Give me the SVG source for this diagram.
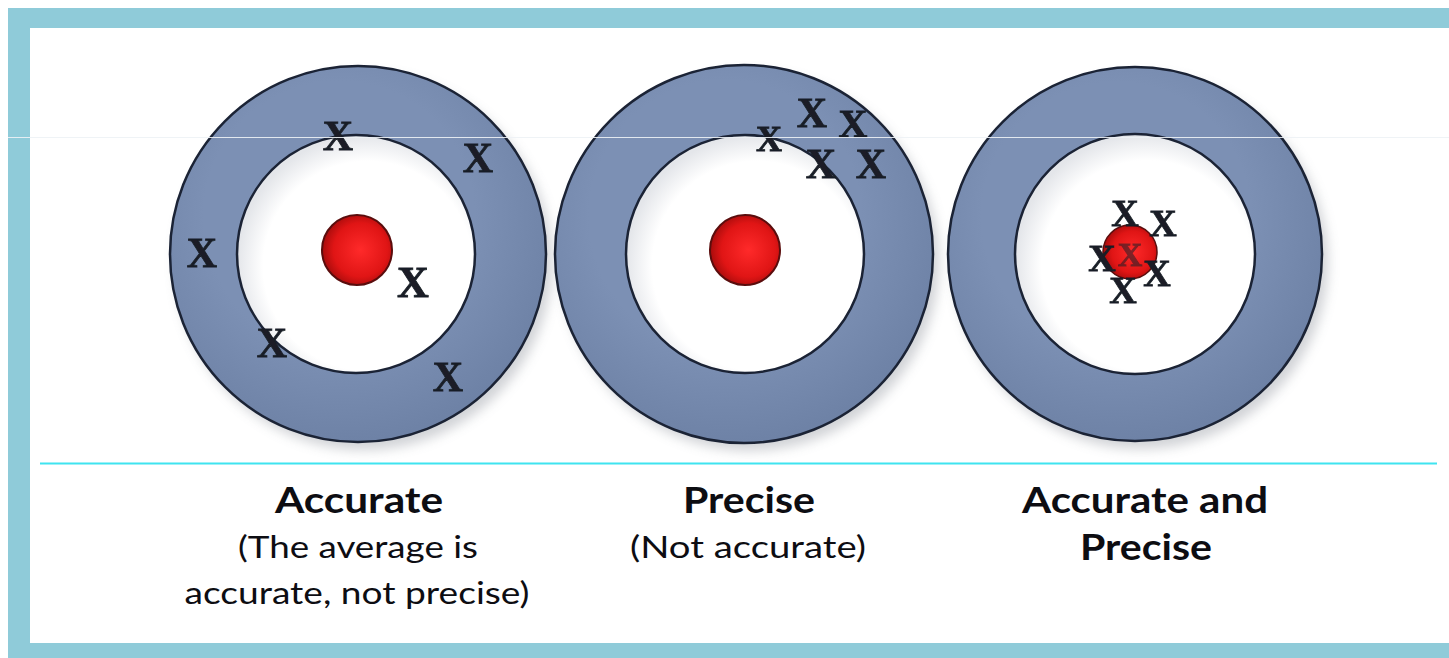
<svg xmlns="http://www.w3.org/2000/svg" width="1449" height="658" viewBox="0 0 1449 658">
<defs>
<style>
.ring{fill:url(#ringGrad);stroke:#1b2335;stroke-width:2.5}
.inner{fill:url(#innerGrad);stroke:#1b2335;stroke-width:2.5}
.bull{fill:url(#redGrad);stroke:#5a0d0d;stroke-width:2}
.x{font-family:"Liberation Serif",serif;font-weight:bold;fill:#1a1e26;stroke:#1a1e26;stroke-width:0.8;text-anchor:middle}
.t{font-family:Lato,"Liberation Sans",sans-serif;fill:#0d0d12;text-anchor:middle}
.b{font-weight:bold;font-size:36px}
.r{font-size:30px}
</style>
<radialGradient id="ringGrad" cx="0.45" cy="0.4" r="0.6">
<stop offset="0.6" stop-color="#7c90b4"/>
<stop offset="1" stop-color="#6e82a6"/>
</radialGradient>
<radialGradient id="innerGrad" cx="0.55" cy="0.55" r="0.55">
<stop offset="0.8" stop-color="#ffffff"/>
<stop offset="1" stop-color="#e4e6ea"/>
</radialGradient>
<radialGradient id="redGrad" cx="0.55" cy="0.5" r="0.55">
<stop offset="0" stop-color="#ff2a2a"/>
<stop offset="0.7" stop-color="#e01515"/>
<stop offset="1" stop-color="#a80c0c"/>
</radialGradient>
<filter id="sh" x="-20%" y="-20%" width="140%" height="140%">
<feGaussianBlur stdDeviation="6"/>
</filter>
<filter id="blur1"><feGaussianBlur stdDeviation="0.6"/></filter>
</defs>

<rect width="1449" height="658" fill="#ffffff"/>
<g id="frame">
<rect x="8" y="8" width="1441" height="20" fill="#8fcbd9"/>
<rect x="8" y="8" width="22" height="650" fill="#8fcbd9"/>
<rect x="8" y="643" width="1441" height="15" fill="#8fcbd9"/>
</g>

<g id="target-accurate">
<circle cx="364" cy="262" r="188" fill="#9a9ea6" opacity="0.45" filter="url(#sh)"/>
<circle class="ring" cx="358" cy="254" r="188"/>
<circle class="inner" cx="356" cy="254" r="119"/>
<circle class="bull" cx="357" cy="250" r="35"/>
<g filter="url(#blur1)">
<text class="x" x="338" y="150" font-size="42">X</text>
<text class="x" x="478" y="172" font-size="42">X</text>
<text class="x" x="202" y="267" font-size="42">X</text>
<text class="x" x="413" y="297" font-size="44">X</text>
<text class="x" x="272" y="357" font-size="42">X</text>
<text class="x" x="448" y="391" font-size="42">X</text>
</g>
</g>

<g id="target-precise">
<circle cx="750" cy="262" r="189" fill="#9a9ea6" opacity="0.45" filter="url(#sh)"/>
<circle class="ring" cx="744" cy="254" r="189"/>
<circle class="inner" cx="745" cy="254" r="119"/>
<circle class="bull" cx="745" cy="250" r="35"/>
<g filter="url(#blur1)">
<text class="x" x="769" y="151" font-size="36">X</text>
<text class="x" x="812" y="127" font-size="42">X</text>
<text class="x" x="853" y="137" font-size="40">X</text>
<text class="x" x="821" y="178" font-size="42">X</text>
<text class="x" x="871" y="178" font-size="42">X</text>
</g>
</g>

<g id="target-both">
<circle cx="1141" cy="262" r="187" fill="#9a9ea6" opacity="0.45" filter="url(#sh)"/>
<circle class="ring" cx="1135" cy="254" r="187"/>
<circle class="inner" cx="1135" cy="254" r="120"/>
<circle cx="1130" cy="252" r="27" fill="url(#redGrad)" stroke="#5a0d0d" stroke-width="1.5"/>
<g filter="url(#blur1)">
<text class="x" x="1125" y="226" font-size="38">X</text>
<text class="x" x="1163" y="236" font-size="38">X</text>
<text class="x" x="1102" y="271" font-size="38">X</text>
<text class="x" x="1157" y="286" font-size="38">X</text>
<text class="x" x="1123" y="303" font-size="38">X</text>
<text class="x" x="1130" y="266" font-size="34" fill="#7a1010" stroke="#7a1010" opacity="0.55">X</text>
</g>
</g>

<g id="guides">
<line x1="8" y1="137.5" x2="1449" y2="137.5" stroke="#eef2f6" stroke-width="1" opacity="0.9"/>
<line x1="40" y1="463.5" x2="1437" y2="463.5" stroke="#3fe4f0" stroke-width="2"/>
</g>

<g id="label-accurate">
<text class="t b" x="359" y="513" textLength="168" lengthAdjust="spacingAndGlyphs">Accurate</text>
<text class="t r" x="358" y="558" textLength="240" lengthAdjust="spacingAndGlyphs">(The average is</text>
<text class="t r" x="357" y="604" textLength="345" lengthAdjust="spacingAndGlyphs">accurate, not precise)</text>
</g>
<g id="label-precise">
<text class="t b" x="749" y="513" textLength="132" lengthAdjust="spacingAndGlyphs">Precise</text>
<text class="t r" x="748" y="558" textLength="236" lengthAdjust="spacingAndGlyphs">(Not accurate)</text>
</g>
<g id="label-both">
<text class="t b" x="1145" y="513" textLength="246" lengthAdjust="spacingAndGlyphs">Accurate and</text>
<text class="t b" x="1146" y="560" textLength="132" lengthAdjust="spacingAndGlyphs">Precise</text>
</g>
</svg>
